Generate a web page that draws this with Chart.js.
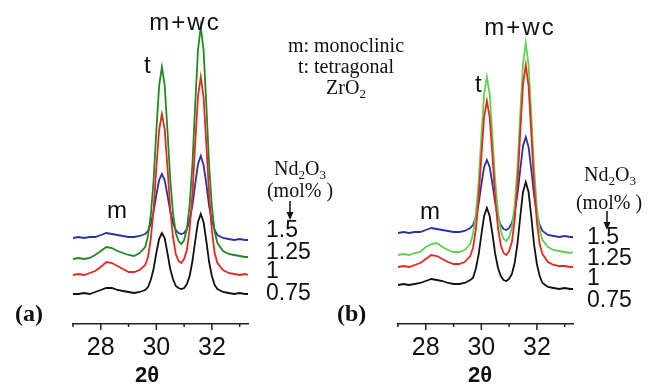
<!DOCTYPE html>
<html>
<head>
<meta charset="utf-8">
<script src="https://cdn.jsdelivr.net/npm/chart.js@4"></script>
<style>
body { margin: 0; background: #fff; }
#wrap { position: relative; width: 656px; height: 388px; overflow: hidden; }
canvas { position: absolute; top: 0; }
#panelA { left: 0; }
#panelB { left: 325px; }
.txt { position: absolute; font-family: 'Liberation Sans', Arial, sans-serif; font-size: 24px; line-height: 1; color: #111; white-space: nowrap; }
.serif { font-family: 'Liberation Serif', 'Times New Roman', serif; font-size: 20px; }
.num { font-size: 23px; }
.ctr { transform: translateX(-50%); text-align: center; }
.bold { font-weight: bold; }
sub { font-size: 65%; vertical-align: -0.3em; line-height: 0; }
.arrow { position: absolute; }
</style>
</head>
<body>
<div id="wrap">
  <canvas id="panelA" width="328" height="388"></canvas>
  <canvas id="panelB" width="328" height="388"></canvas>

  <!-- panel (a) labels -->
  <div class="txt ctr" style="left:185px; top:10px; letter-spacing:2px;">m+wc</div>
  <div class="txt" style="left:144px; top:53px;">t</div>
  <div class="txt" style="left:107px; top:198px;">m</div>
  <div class="txt serif ctr" style="left:300px; top:158px;">Nd<sub>2</sub>O<sub>3</sub></div>
  <div class="txt serif ctr" style="left:300px; top:180px;">(mol% )</div>
  <svg class="arrow" style="left:284px; top:201px" width="12" height="20"><line x1="6" y1="0" x2="6" y2="13" stroke="#111" stroke-width="1.5"/><path d="M2.5 11 L6 19 L9.5 11 Z" fill="#111"/></svg>
  <div class="txt num" style="left:266px; top:218px;">1.5</div>
  <div class="txt num" style="left:266px; top:240px;">1.25</div>
  <div class="txt num" style="left:266px; top:259px;">1</div>
  <div class="txt num" style="left:266px; top:281px;">0.75</div>
  <div class="txt serif bold" style="left:15px; top:301px; font-size:24px;">(a)</div>
  <div class="txt bold ctr" style="left:147px; top:364px; font-size:22px;">2θ</div>

  <!-- legend text -->
  <div class="txt serif ctr" style="left:346px; top:35px; line-height:21px;">m: monoclinic<br>t: tetragonal<br>ZrO<sub>2</sub></div>

  <!-- panel (b) labels -->
  <div class="txt ctr" style="left:520px; top:15px; letter-spacing:2px;">m+wc</div>
  <div class="txt" style="left:475px; top:72px;">t</div>
  <div class="txt" style="left:420px; top:199px;">m</div>
  <div class="txt serif ctr" style="left:610px; top:164px;">Nd<sub>2</sub>O<sub>3</sub></div>
  <div class="txt serif ctr" style="left:609px; top:192px;">(mol% )</div>
  <svg class="arrow" style="left:601px; top:211px" width="12" height="20"><line x1="6" y1="0" x2="6" y2="13" stroke="#111" stroke-width="1.5"/><path d="M2.5 11 L6 19 L9.5 11 Z" fill="#111"/></svg>
  <div class="txt num" style="left:587px; top:225px;">1.5</div>
  <div class="txt num" style="left:587px; top:246px;">1.25</div>
  <div class="txt num" style="left:587px; top:266px;">1</div>
  <div class="txt num" style="left:587px; top:288px;">0.75</div>
  <div class="txt serif bold" style="left:337px; top:301px; font-size:24px;">(b)</div>
  <div class="txt bold ctr" style="left:480px; top:364px; font-size:22px;">2θ</div>
</div>

<script>
// 2theta positions (deg)
const twoTheta = [27.0, 27.2, 27.4, 27.6, 27.8, 28.0, 28.2, 28.4, 28.6, 28.8, 29.0, 29.2, 29.4, 29.6,
  29.7, 29.8, 29.9, 30.0, 30.1, 30.2, 30.3, 30.4, 30.5, 30.6, 30.7, 30.8, 30.9, 31.0, 31.1, 31.2,
  31.3, 31.4, 31.5, 31.6, 31.7, 31.8, 31.9, 32.0, 32.1, 32.2,
  32.4, 32.6, 32.8, 33.0, 33.2, 33.3];

const majorTicks = [28, 30, 32];

// panel (a) - stacked intensities, a.u.
const a075 = [30, 30, 31, 30, 32, 34, 36, 36, 34, 33, 32, 31, 32, 34,
  37, 44, 55, 71, 85, 91, 86, 71, 55, 45, 38, 36, 35, 36, 40, 48, 63, 83, 102, 110, 102, 83, 62, 48, 39, 35,
  32, 31, 30, 31, 30, 30];
const a100 = [49, 50, 49, 51, 53, 57, 62, 61, 58, 55, 52, 52, 54, 59,
  67, 85, 114, 156, 194, 210, 195, 157, 115, 87, 70, 63, 61, 65, 74, 95, 130, 181, 228, 247, 227, 180, 129, 93, 71, 61,
  54, 51, 50, 49, 50, 49];
const a125 = [65, 66, 65, 66, 69, 73, 77, 76, 73, 71, 69, 68, 71, 77,
  88, 109, 143, 193, 238, 257, 239, 194, 145, 111, 91, 83, 80, 84, 95, 119, 160, 220, 274, 297, 274, 219, 159, 117, 92, 81,
  73, 70, 69, 68, 67, 67];
const a150 = [86, 87, 86, 87, 87, 89, 91, 90, 89, 88, 87, 87, 88, 90,
  93, 100, 112, 129, 144, 150, 144, 129, 113, 101, 94, 91, 90, 91, 95, 104, 119, 140, 160, 168, 159, 140, 118, 103, 94, 89,
  86, 85, 84, 85, 84, 84];

// panel (b)
const b075 = [39, 40, 39, 40, 41, 43, 45, 44, 43, 41, 40, 40, 41, 44,
  46, 55, 69, 89, 108, 116, 108, 90, 70, 56, 48, 44, 43, 45, 50, 61, 80, 107, 132, 142, 132, 107, 79, 60, 48, 41,
  37, 36, 35, 36, 35, 35];
const b100 = [57, 58, 57, 59, 61, 65, 69, 68, 65, 62, 60, 60, 62, 68,
  76, 94, 124, 167, 207, 223, 207, 168, 125, 96, 79, 71, 69, 73, 82, 104, 139, 191, 239, 259, 238, 190, 138, 102, 80, 70,
  62, 59, 58, 58, 57, 57];
const b125 = [69, 70, 69, 71, 72, 77, 80, 81, 77, 74, 72, 72, 74, 80,
  90, 109, 141, 187, 230, 247, 230, 188, 143, 112, 93, 85, 83, 87, 96, 119, 156, 210, 260, 281, 259, 209, 155, 117, 94, 84,
  77, 74, 73, 72, 71, 72];
const b150 = [91, 92, 91, 92, 92, 94, 96, 95, 94, 93, 92, 92, 93, 96,
  99, 107, 120, 139, 157, 164, 157, 140, 121, 107, 99, 95, 94, 96, 101, 112, 129, 154, 178, 187, 177, 154, 128, 110, 99, 93,
  89, 88, 87, 88, 87, 87];

const toPoints = arr => arr.map((v, i) => ({ x: twoTheta[i], y: v }));

// short minor ticks, longer major ones
const tickMarks = {
  id: 'tickMarks',
  afterDraw(chart) {
    const sx = chart.scales.x;
    const ctx = chart.ctx;
    ctx.save();
    ctx.strokeStyle = '#222';
    ctx.lineWidth = 1.5;
    sx.ticks.forEach(t => {
      const px = sx.getPixelForValue(t.value);
      const len = majorTicks.includes(t.value) ? 6 : 3;
      ctx.beginPath();
      ctx.moveTo(px, sx.top);
      ctx.lineTo(px, sx.top + len);
      ctx.stroke();
    });
    ctx.restore();
  }
};

function makePanel(id, series, colors) {
  const ctx = document.getElementById(id);
  return new Chart(ctx, {
    type: 'line',
    data: {
      datasets: series.map((s, i) => ({
        data: toPoints(s),
        borderColor: colors[i],
        borderWidth: 1.8,
        pointRadius: 0,
        tension: 0,
        fill: false
      }))
    },
    options: {
      responsive: false,
      animation: false,
      layout: { padding: { left: 73, right: 80, top: 14, bottom: 0 } },
      plugins: { legend: { display: false }, tooltip: { enabled: false } },
      scales: {
        x: {
          type: 'linear',
          min: 27,
          max: 33.3,
          afterFit: s => { s.height = 64; },
          grid: { display: false, drawTicks: false },
          border: { display: true, color: '#222', width: 1.5 },
          ticks: {
            stepSize: 1,
            includeBounds: false,
            autoSkip: false,
            maxRotation: 0,
            padding: 9,
            color: '#111',
            font: { family: "'Liberation Sans', Arial, sans-serif", size: 25 },
            callback: v => majorTicks.includes(v) ? String(v) : ''
          }
        },
        y: { display: false, min: 0, max: 310 }
      }
    },
    plugins: [tickMarks]
  });
}

makePanel('panelA', [a075, a100, a125, a150], ['#111111', '#e8281e', '#1f8a1f', '#2b31a8']);
makePanel('panelB', [b075, b100, b125, b150], ['#111111', '#e8281e', '#5fd14f', '#2b31a8']);
</script>
</body>
</html>
